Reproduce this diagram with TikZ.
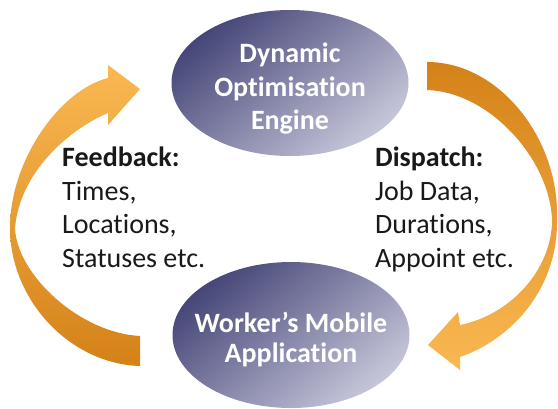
\documentclass[tikz,border=0pt]{standalone}
\usepackage{fontspec}
\setmainfont{Carlito}[Ligatures=CommonOff]
\usetikzlibrary{shapes.geometric}
\definecolor{blobdark}{RGB}{70,70,120}
\definecolor{bloblight}{RGB}{198,198,218}
\definecolor{arrowlight}{RGB}{250,184,82}
\definecolor{arrowdark}{RGB}{212,130,24}
\tikzset{
  blob/.style={ellipse,inner sep=0pt,outer sep=0pt,minimum width=237pt,minimum height=146pt,
    top color=blobdark,bottom color=bloblight,shading angle=40},
  blobtext/.style={text=white,align=center,inner sep=0pt,anchor=north},
  listtext/.style={text=black!90,font=\fontsize{28}{33.7}\selectfont,align=left,anchor=north west,inner sep=0pt}
}

\begin{document}
\begin{tikzpicture}[x=1pt,y=-1pt]
  \useasboundingbox (0,0) rectangle (558,408);
  % the two ellipses
  \node[blob] (engine) at (290,83) {};
  \node[blob] (mobile) at (291,335) {};
  \node[blobtext,font=\bfseries\fontsize{28}{33.5}\selectfont] (enginetext) at (290,43) {Dynamic\\Optimisation\\Engine};
  \node[blobtext,font=\bfseries\fontsize{28}{30}\selectfont] (mobiletext) at (291,312) {Worker’s Mobile\\Application};
  % feedback arrow, tail at the bottom
  \shade[top color=arrowlight,bottom color=arrowdark]
    (140,89)--(108,125)--(108,113)
    .. controls (72,128) and (20,170) .. (15,228)
    .. controls (17,275) and (80,333) .. (140,336)
    --(140,366)
    .. controls (70,364) and (10,300) .. (10,228)
    .. controls (10,160) and (60,90) .. (108,78)
    --(108,65)--cycle;
  % dispatch arrow, tail at the top
  \shade[top color=arrowdark,bottom color=arrowlight]
    (427,62) .. controls (500,62) and (560,140) .. (557,220)
    .. controls (558,290) and (510,340) .. (460,357)
    --(460,370)--(428,345)--(458,312)--(460,325)
    .. controls (510,315) and (552,270) .. (552,220)
    .. controls (550,160) and (490,92) .. (427,90)--cycle;
  \node[listtext] (feedback) at (62,146.5) {\textbf{Feedback:}\\Times,\\Locations,\\Statuses etc.};
  \node[listtext] (dispatch) at (375,146.5) {\textbf{Dispatch:}\\Job Data,\\Durations,\\Appoint etc.};
\end{tikzpicture}
\end{document}
